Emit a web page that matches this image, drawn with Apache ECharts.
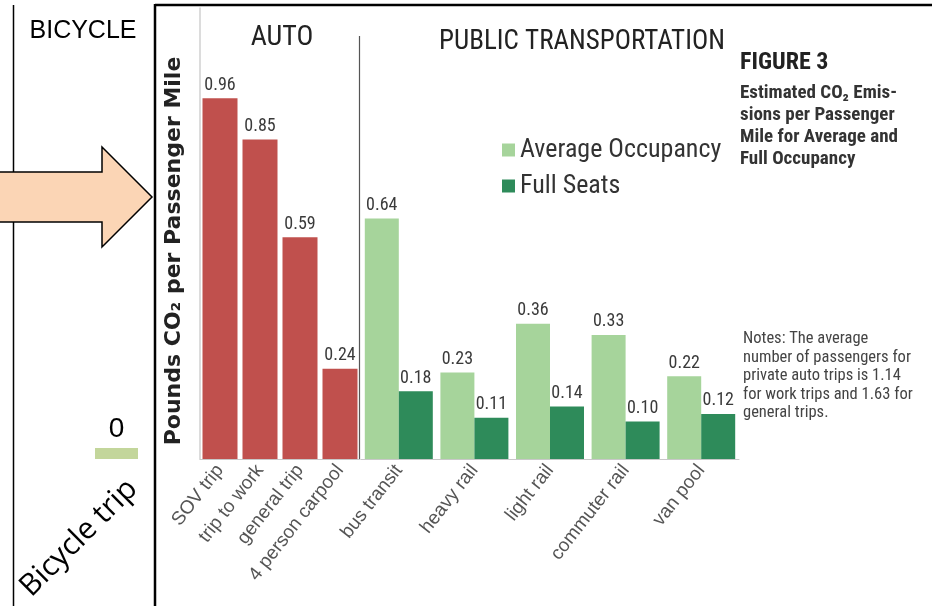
<!DOCTYPE html>
<html>
<head>
<meta charset="utf-8">
<script src="https://cdn.jsdelivr.net/npm/echarts@6/dist/echarts.min.js"></script>
<style>html,body{margin:0;padding:0;background:#fff}#c{width:932px;height:606px}</style>
</head>
<body>
<div id="c"></div>
<script>
const autoCategories = ['SOV trip', 'trip to work', 'general trip', '4 person carpool'];
const autoValues = [0.96, 0.85, 0.59, 0.24];
const publicCategories = ['bus transit', 'heavy rail', 'light rail', 'commuter rail', 'van pool'];
const averageOccupancy = [0.64, 0.23, 0.36, 0.33, 0.22];
const fullSeats = [0.18, 0.11, 0.14, 0.10, 0.12];
const bicycleCategories = ['Bicycle trip'];
const bicycleValues = [0];

const NARROW = "'Liberation Sans Narrow', 'Roboto Condensed', 'Liberation Sans', sans-serif";
const chart = echarts.init(document.getElementById('c'));
const valLabel = {
  show: true, position: 'top', distance: 4,
  fontFamily: NARROW, fontSize: 18, color: '#3a3a3a',
  formatter: p => p.value.toFixed(2)
};
const xLabel = { rotate: 52, fontFamily: "'Liberation Sans', sans-serif", fontSize: 19, color: '#555', margin: 8, interval: 0 };

chart.setOption({
  animation: false,
  backgroundColor: '#fff',
  grid: [
    { left: 200, width: 160, top: 8, bottom: 147 },
    { left: 361, width: 378, top: 8, bottom: 147 },
    { left: 95, width: 43, top: 300, bottom: 147 }
  ],
  xAxis: [
    { type: 'category', gridIndex: 0, data: autoCategories, axisTick: { show: false },
      axisLine: { lineStyle: { color: '#c8c8c8' } }, axisLabel: xLabel },
    { type: 'category', gridIndex: 1, data: publicCategories, axisTick: { show: false },
      axisLine: { lineStyle: { color: '#c8c8c8' } }, axisLabel: xLabel },
    { type: 'category', gridIndex: 2, data: bicycleCategories, axisTick: { show: false },
      axisLine: { show: false }, axisLabel: { show: false } }
  ],
  yAxis: [
    { type: 'value', gridIndex: 0, min: 0, max: 1.2, axisLabel: { show: false }, axisTick: { show: false },
      splitLine: { show: false }, axisLine: { show: true, lineStyle: { color: '#d0d0d0', width: 1.5 } } },
    { type: 'value', gridIndex: 1, min: 0, max: 1.2, axisLabel: { show: false }, axisTick: { show: false },
      splitLine: { show: false }, axisLine: { show: false } },
    { type: 'value', gridIndex: 2, min: 0, max: 1, show: false }
  ],
  legend: {
    data: ['Average Occupancy', 'Full Seats'],
    orient: 'vertical', left: 497, top: 132,
    itemWidth: 13, itemHeight: 13, itemGap: 10, icon: 'rect',
    textStyle: { fontFamily: NARROW, fontSize: 26, color: '#333' }
  },
  series: [
    { name: 'Auto', type: 'bar', xAxisIndex: 0, yAxisIndex: 0, data: autoValues, barWidth: 35,
      itemStyle: { color: '#c0504d' }, label: valLabel },
    { name: 'Average Occupancy', type: 'bar', xAxisIndex: 1, yAxisIndex: 1, data: averageOccupancy,
      barWidth: 34, barGap: '0%', itemStyle: { color: '#a6d49b' }, label: valLabel },
    { name: 'Full Seats', type: 'bar', xAxisIndex: 1, yAxisIndex: 1, data: fullSeats,
      barWidth: 34, barGap: '0%', itemStyle: { color: '#2e8b5a' }, label: valLabel },
    { name: 'Bicycle', type: 'bar', xAxisIndex: 2, yAxisIndex: 2, data: bicycleValues,
      barWidth: 43, barMinHeight: 11, itemStyle: { color: '#c3d69b' },
      label: { show: true, position: 'top', distance: 5, fontFamily: "'Liberation Sans', sans-serif", fontSize: 28, color: '#000',
        formatter: p => String(p.value) } }
  ],
  graphic: [
    { type: 'line', shape: { x1: 13.5, y1: 5, x2: 13.5, y2: 606 }, style: { stroke: '#000', lineWidth: 1.5 }, z: 1 },
    { type: 'line', shape: { x1: 155, y1: 5, x2: 932, y2: 5 }, style: { stroke: '#000', lineWidth: 2.5 }, z: 1 },
    { type: 'line', shape: { x1: 155, y1: 4, x2: 155, y2: 606 }, style: { stroke: '#000', lineWidth: 2.5 }, z: 1 },
    { type: 'polygon', shape: { points: [[-2, 172], [102, 172], [102, 147], [152, 197], [102, 247], [102, 222], [-2, 222]] },
      style: { fill: '#fbd5b5', stroke: '#000', lineWidth: 1.5 }, z: 5 },
    { type: 'line', shape: { x1: 359.5, y1: 36, x2: 359.5, y2: 459 }, style: { stroke: '#555', lineWidth: 1.2 }, z: 5 },
    { type: 'text', x: 83, y: 31, style: { text: 'BICYCLE', fontFamily: "'Liberation Sans', sans-serif", fontSize: 25, fill: '#000', align: 'center', verticalAlign: 'middle' } },
    { type: 'text', x: 79, y: 538, rotation: Math.PI / 4,
      style: { text: bicycleCategories[0], fontFamily: "'Open Sans', sans-serif", fontSize: 30, fill: '#000', align: 'center', verticalAlign: 'middle' } },
    { type: 'text', x: 174, y: 251, rotation: Math.PI / 2,
      style: { text: 'Pounds CO\u2082 per Passenger Mile', fontFamily: "'DejaVu Sans', sans-serif", fontWeight: 'bold', fontSize: 22, fill: '#222', align: 'center', verticalAlign: 'middle' } },
    { type: 'text', x: 282, y: 38, style: { text: 'AUTO', fontFamily: NARROW, fontSize: 28, fill: '#222', align: 'center', verticalAlign: 'middle' } },
    { type: 'text', x: 582, y: 42, style: { text: 'PUBLIC TRANSPORTATION', fontFamily: NARROW, fontSize: 27, fill: '#222', align: 'center', verticalAlign: 'middle' } },
    { type: 'text', x: 740, y: 63, style: { text: 'FIGURE 3', fontFamily: NARROW, fontWeight: 'bold', fontSize: 24, fill: '#222', verticalAlign: 'middle' } },
    { type: 'text', x: 740, y: 82, style: { text: 'Estimated CO\u2082 Emis-\nsions per Passenger\nMile for Average and\nFull Occupancy', fontFamily: NARROW, fontWeight: 'bold', fontSize: 19, lineHeight: 22, fill: '#333', verticalAlign: 'top' } },
    { type: 'text', x: 743, y: 330, style: { text: 'Notes: The average\nnumber of passengers for\nprivate auto trips is 1.14\nfor work trips and 1.63 for\ngeneral trips.', fontFamily: NARROW, fontSize: 16.5, lineHeight: 18.5, fill: '#444', verticalAlign: 'top' } }
  ]
});
</script>
</body>
</html>
